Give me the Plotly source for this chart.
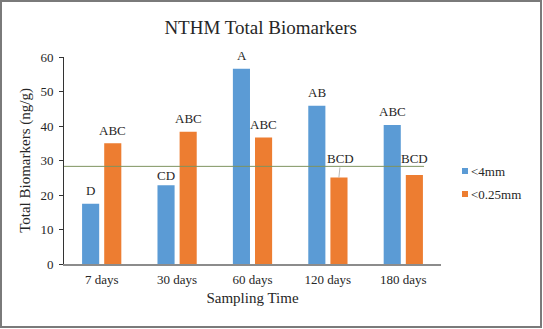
import plotly.graph_objects as go

categories = ["7 days", "30 days", "60 days", "120 days", "180 days"]
series_names = ["<4mm", "<0.25mm"]
values_4mm = [17.5, 22.8, 56.6, 45.9, 40.3]
values_025mm = [35.0, 38.3, 36.7, 25.1, 25.8]
labels_4mm = ["D", "CD", "A", "AB", "ABC"]
labels_025mm = ["ABC", "ABC", "ABC", "BCD", "BCD"]
reference_line = 28.3
y_ticks = [0, 10, 20, 30, 40, 50, 60]

colors = ["#5B9BD5", "#ED7D31"]
FONT = "Liberation Serif"
TXT = "#262626"

fig = go.Figure()
for name, vals, col in zip(series_names, [values_4mm, values_025mm], colors):
    fig.add_trace(go.Bar(x=categories, y=vals, name=name, marker_color=col,
                         marker_line_width=0, showlegend=False))

# significance letters
offs = {"CD": 10}
for i, c in enumerate(categories):
    for vals, labs, xs in [(values_4mm, labels_4mm, -11), (values_025mm, labels_025mm, 11)]:
        lab = labs[i]
        ys = offs.get(lab, 13)
        if lab == "BCD" and i == 3:
            fig.add_annotation(x=c, y=vals[i], xref="x", yref="y", xshift=xs,
                               text=lab, showarrow=True, arrowhead=0, arrowwidth=0.7,
                               arrowcolor="#999999", ax=2, ay=-19, standoff=0,
                               font=dict(family=FONT, size=13, color=TXT))
            continue
        if lab == "BCD":
            ys = 16
        fig.add_annotation(x=c, y=vals[i], xref="x", yref="y", xshift=xs, yshift=ys,
                           yanchor="middle", text=lab, showarrow=False,
                           font=dict(family=FONT, size=13, color=TXT))

# horizontal reference line
fig.add_shape(type="line", xref="paper", yref="y", x0=0, x1=0.955,
              y0=reference_line, y1=reference_line,
              line=dict(color="#7F9460", width=1))

# manual legend
L, R, T, B = 64, 441, 57, 264
W, H = R - L, B - T
def px(x):
    return (x - L) / W
def py(y):
    return (B - y) / H
for k, (name, col) in enumerate(zip(series_names, colors)):
    cy = 171 + 23 * k
    fig.add_shape(type="rect", xref="paper", yref="paper",
                  x0=px(462), x1=px(468), y0=py(cy + 3), y1=py(cy - 3),
                  fillcolor=col, line_width=0)
    fig.add_annotation(xref="paper", yref="paper", x=px(469), y=py(cy),
                       xanchor="left", yanchor="middle", text=name, showarrow=False,
                       font=dict(family=FONT, size=13, color=TXT))

# outer frame
fig.add_shape(type="rect", xref="paper", yref="paper",
              x0=px(1), x1=px(541), y0=py(327), y1=py(1),
              line=dict(color="#7a7a7a", width=2), fillcolor="rgba(0,0,0,0)")

fig.update_layout(
    width=543, height=329,
    margin=dict(l=L, r=543 - R, t=T, b=329 - B),
    paper_bgcolor="white", plot_bgcolor="white",
    barmode="group", bargap=0.413, bargroupgap=0.227,
    font=dict(family=FONT, color=TXT),
    title=dict(text="NTHM Total Biomarkers", x=0.48, xanchor="center",
               y=1 - 27 / 329, yanchor="middle",
               font=dict(family=FONT, size=19, color=TXT)),
)
fig.update_xaxes(showline=True, linecolor="#8c8c8c", linewidth=1.5, ticks="",
                 showgrid=False, ticklabelstandoff=3,
                 tickfont=dict(family=FONT, size=13, color=TXT),
                 title=dict(text="Sampling Time", font=dict(family=FONT, size=15, color=TXT),
                            standoff=6))
fig.update_yaxes(range=[0, 60], tickvals=y_ticks, showline=True, linecolor="#333",
                 linewidth=1, ticks="outside", ticklen=4, tickcolor="#333",
                 showgrid=False, zeroline=False, ticklabelstandoff=3,
                 tickfont=dict(family=FONT, size=13, color=TXT),
                 title=dict(text="Total Biomarkers (ng/g)", font=dict(family=FONT, size=15, color=TXT),
                            standoff=6))

fig.write_html("out.html")
